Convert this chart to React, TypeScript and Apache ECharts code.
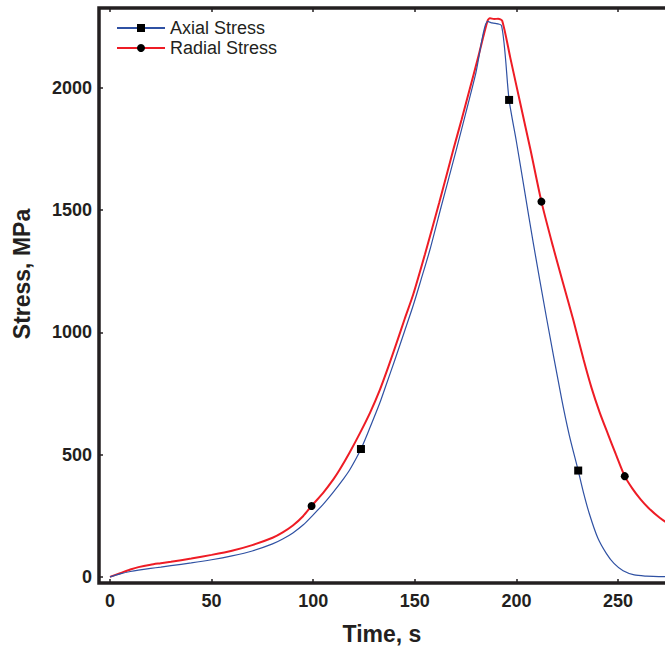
import React, { useEffect, useRef } from "react";
import * as echarts from "echarts";

// Axial stress (blue) — time in s, stress in MPa
const axialTime = [0, 5, 10, 14, 20, 25, 30, 40, 50, 60, 70, 80, 85, 90, 95, 100, 105, 110, 115, 118, 123.5, 128, 132.8, 136, 140, 145, 149.2, 153, 157.4, 163, 170.5, 175, 180, 185.8, 188, 192.7, 196.4, 200, 204, 208.2, 214.8, 222.2, 226, 230.4, 233, 236, 240, 244.3, 248, 252.5, 258, 264, 270, 280];
const axialStress = [0, 12, 22, 28, 35, 40, 46, 57, 70, 86, 106, 135, 155, 180, 212, 254, 298, 348, 402, 438, 523, 612, 712, 788, 883, 1006, 1110, 1214, 1337, 1515, 1750, 1895, 2060, 2272, 2266, 2254, 1951, 1780, 1580, 1370, 1060, 730, 580, 435, 345, 255, 160, 95, 55, 25, 8, 3, 1, 1];
const axialMarkerTimes = [123.5, 196.4, 230.4];

// Radial stress (red)
const radialTime = [0, 5, 10, 14, 20, 25, 30, 40, 50, 60, 70, 80, 85, 90, 95, 99.2, 105, 110, 113, 118, 123, 128, 132.8, 137, 141, 145, 149.2, 155, 162, 168.9, 173, 177, 181, 185.8, 187, 189, 191, 193, 197, 202, 207, 212.3, 218, 223, 228, 233, 237, 241, 245, 249, 253.3, 257, 261, 265, 270.5, 275, 280];
const radialStress = [0, 15, 30, 40, 50, 56, 62, 75, 90, 107, 130, 160, 182, 210, 248, 290, 345, 400, 438, 510, 588, 672, 765, 860, 956, 1055, 1155, 1320, 1530, 1746, 1870, 1995, 2120, 2275, 2285, 2282, 2283, 2275, 2123, 1933, 1744, 1535, 1351, 1200, 1051, 890, 772, 672, 585, 500, 412, 362, 318, 282, 242, 217, 202];
const radialMarkerTimes = [99.2, 212.3, 253.3];

const xTicks = [0, 50, 100, 150, 200, 250];
const yTicks = [0, 500, 1000, 1500, 2000];

const seriesNames = ["Axial Stress", "Radial Stress"];
const xTitle = "Time, s";
const yTitle = "Stress, MPa";

const FONT = "'Liberation Sans', Arial, Helvetica, sans-serif";
const INK = "#231f20";

function buildData(t: number[], s: number[], markers: number[], sym: string) {
  return t.map((x, i) => ({
    value: [x, s[i]],
    symbol: markers.includes(x) ? sym : "none",
  }));
}

export default function App() {
  const ref = useRef<HTMLDivElement>(null);
  useEffect(() => {
    if (!ref.current) return;
    const chart = echarts.init(ref.current, null, { renderer: "svg" });
    const xAxisBase = {
      type: "value",
      min: -5.4,
      max: 280,
      splitLine: { show: false },
      axisLine: { show: false, onZero: false },
      axisTick: { show: true, inside: true, length: 4, customValues: xTicks, lineStyle: { color: INK, width: 1.5 } },
    };
    chart.setOption({
      animation: false,
      backgroundColor: "#ffffff",
      grid: {
        left: 99,
        top: 8,
        width: 580,
        height: 575,
        containLabel: false,
        outerBoundsMode: "none",
        show: true,
        borderColor: INK,
        borderWidth: 3.5,
        backgroundColor: "transparent",
      },
      legend: {
        show: true,
        left: 116,
        top: 19,
        orient: "vertical",
        padding: 0,
        itemWidth: 48,
        itemHeight: 10,
        itemGap: 2,
        textStyle: { fontFamily: FONT, fontSize: 18, color: INK, lineHeight: 18, padding: [0, 0, 0, 0] },
        data: seriesNames,
      },
      xAxis: [
        {
          ...xAxisBase,
          position: "bottom",
          axisLabel: {
            show: true,
            customValues: xTicks,
            margin: 9,
            fontFamily: FONT,
            fontSize: 18,
            fontWeight: "bold",
            color: INK,
          },
        },
        {
          ...xAxisBase,
          position: "top",
          axisLabel: { show: false },
        },
      ],
      yAxis: {
        type: "value",
        min: -25,
        max: 2327,
        splitLine: { show: false },
        axisLine: { show: false, onZero: false },
        axisTick: { show: true, inside: true, length: 4, customValues: yTicks, lineStyle: { color: INK, width: 1.5 } },
        axisLabel: {
          show: true,
          customValues: yTicks,
          margin: 7,
          fontFamily: FONT,
          fontSize: 18,
          fontWeight: "bold",
          color: INK,
          formatter: (v: number) => String(v),
        },
      },
      series: [
        {
          name: seriesNames[0],
          type: "line",
          xAxisIndex: 0,
          data: buildData(axialTime, axialStress, axialMarkerTimes, "rect"),
          symbol: "rect",
          symbolSize: 8,
          showSymbol: true,
          showAllSymbol: true,
          smooth: 0.25,
          lineStyle: { color: "#2f51a3", width: 1.2 },
          itemStyle: { color: "#000000" },
          emphasis: { disabled: true },
          z: 3,
        },
        {
          name: seriesNames[1],
          type: "line",
          xAxisIndex: 0,
          data: buildData(radialTime, radialStress, radialMarkerTimes, "circle"),
          symbol: "circle",
          symbolSize: 8,
          showSymbol: true,
          showAllSymbol: true,
          smooth: 0.25,
          lineStyle: { color: "#ee1c25", width: 2 },
          itemStyle: { color: "#000000" },
          emphasis: { disabled: true },
          z: 2,
        },
      ],
      graphic: [
        {
          type: "text",
          x: 382,
          y: 634,
          style: {
            text: xTitle,
            fontFamily: FONT,
            fontSize: 23,
            fontWeight: "bold",
            fill: INK,
            textAlign: "center",
            textVerticalAlign: "middle",
          },
        },
        {
          type: "text",
          x: 22,
          y: 274,
          rotation: Math.PI / 2,
          style: {
            text: yTitle,
            fontFamily: FONT,
            fontSize: 23,
            fontWeight: "bold",
            fill: INK,
            textAlign: "center",
            textVerticalAlign: "middle",
          },
        },
      ],
    });
    return () => chart.dispose();
  }, []);
  return (
    <div
      ref={ref}
      style={{ position: "fixed", left: 0, top: 0, width: 665, height: 650, background: "#fff" }}
    />
  );
}
